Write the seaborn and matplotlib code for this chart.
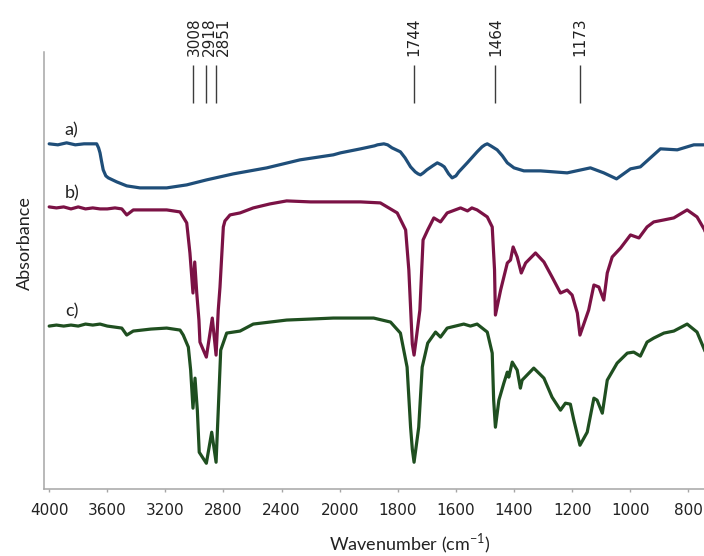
import numpy as np
import pandas as pd
import matplotlib
matplotlib.use("Agg")
import matplotlib.pyplot as plt
import seaborn as sns

# ---- spectra (wavenumber in cm-1, stacked absorbance in arbitrary units) ----
a_wn = [4000, 3940, 3880, 3820, 3760, 3700, 3673, 3660, 3650, 3640, 3628, 3610,
        3593, 3535, 3466, 3375, 3191, 3053, 2916, 2732, 2502, 2273, 2044, 1997,
        1928, 1880, 1870, 1848, 1835, 1820, 1791, 1775, 1756, 1740, 1730, 1722,
        1712, 1700, 1680, 1664, 1650, 1640, 1625, 1613, 1600, 1590, 1561, 1527,
        1510, 1500, 1492, 1480, 1458, 1440, 1423, 1400, 1366, 1309, 1217, 1137,
        1091, 1047, 999, 965, 896, 838, 781, 740]
a_ab = [3.45, 3.44, 3.46, 3.44, 3.45, 3.45, 3.45, 3.41, 3.36, 3.28, 3.19, 3.13,
        3.11, 3.07, 3.03, 3.01, 3.01, 3.04, 3.09, 3.15, 3.21, 3.29, 3.34, 3.36,
        3.40, 3.43, 3.44, 3.45, 3.44, 3.41, 3.37, 3.31, 3.22, 3.17, 3.15, 3.14,
        3.16, 3.19, 3.23, 3.26, 3.24, 3.22, 3.15, 3.11, 3.13, 3.17, 3.26, 3.37,
        3.42, 3.44, 3.45, 3.43, 3.39, 3.33, 3.26, 3.21, 3.18, 3.18, 3.16, 3.21,
        3.16, 3.10, 3.20, 3.22, 3.40, 3.39, 3.44, 3.44]

b_wn = [4000, 3950, 3900, 3850, 3800, 3750, 3700, 3650, 3600, 3547, 3500, 3466,
        3421, 3300, 3191, 3099, 3053, 3031, 3010, 2998, 2984, 2969, 2962, 2918,
        2877, 2851, 2836, 2824, 2801, 2790, 2755, 2686, 2595, 2480, 2365, 2200,
        2044, 1928, 1860, 1802, 1773, 1762, 1754, 1750, 1744, 1738, 1724, 1713,
        1697, 1676, 1653, 1630, 1584, 1560, 1545, 1527, 1492, 1475, 1467, 1464,
        1446, 1423, 1412, 1403, 1389, 1375, 1360, 1326, 1297, 1269, 1240, 1217,
        1200, 1182, 1173, 1143, 1125, 1108, 1091, 1079, 1062, 1033, 999, 970, 942,
        919, 884, 850, 804, 770, 744, 740]
b_ab = [2.82, 2.81, 2.82, 2.80, 2.82, 2.80, 2.81, 2.80, 2.80, 2.81, 2.80, 2.74,
        2.79, 2.79, 2.79, 2.77, 2.66, 2.36, 1.96, 2.27, 1.96, 1.69, 1.47, 1.32,
        1.71, 1.34, 1.79, 2.02, 2.62, 2.68, 2.74, 2.76, 2.81, 2.85, 2.88, 2.87,
        2.87, 2.87, 2.86, 2.76, 2.59, 2.19, 1.69, 1.45, 1.34, 1.47, 1.79, 2.49,
        2.59, 2.71, 2.67, 2.76, 2.81, 2.78, 2.81, 2.79, 2.72, 2.62, 2.19, 1.74,
        1.99, 2.26, 2.29, 2.42, 2.32, 2.16, 2.26, 2.36, 2.27, 2.12, 1.96, 1.99,
        1.94, 1.76, 1.54, 1.79, 2.04, 2.02, 1.89, 2.16, 2.32, 2.41, 2.54, 2.51,
        2.62, 2.67, 2.69, 2.71, 2.79, 2.72, 2.59, 2.55]

c_wn = [4000, 3950, 3900, 3850, 3800, 3750, 3700, 3650, 3600, 3550, 3500, 3466,
        3421, 3300, 3191, 3099, 3077, 3042, 3026, 3010, 2996, 2980, 2967, 2918,
        2881, 2851, 2836, 2819, 2778, 2686, 2595, 2480, 2365, 2200, 2044, 1928,
        1883, 1825, 1791, 1768, 1756, 1750, 1744, 1738, 1728, 1716, 1697, 1670,
        1653, 1630, 1573, 1550, 1527, 1492, 1475, 1470, 1464, 1452, 1435, 1423,
        1418, 1406, 1389, 1378, 1372, 1332, 1297, 1269, 1240, 1223, 1206, 1194,
        1173, 1148, 1125, 1114, 1096, 1079, 1045, 1010, 988, 965, 942, 919, 884,
        850, 804, 770, 744, 740]
c_ab = [1.63, 1.64, 1.63, 1.64, 1.63, 1.65, 1.64, 1.65, 1.63, 1.62, 1.61, 1.54,
        1.58, 1.60, 1.61, 1.59, 1.54, 1.42, 1.19, 0.81, 1.11, 0.79, 0.37, 0.26,
        0.57, 0.27, 0.79, 1.39, 1.56, 1.58, 1.65, 1.67, 1.69, 1.70, 1.71, 1.71,
        1.71, 1.67, 1.56, 1.22, 0.62, 0.40, 0.27, 0.40, 0.62, 1.22, 1.46, 1.57,
        1.52, 1.61, 1.65, 1.63, 1.65, 1.57, 1.36, 0.89, 0.62, 0.89, 1.06, 1.17,
        1.12, 1.27, 1.19, 1.01, 1.09, 1.21, 1.11, 0.92, 0.79, 0.86, 0.85, 0.69,
        0.44, 0.57, 0.91, 0.89, 0.76, 1.09, 1.26, 1.36, 1.37, 1.33, 1.47, 1.51,
        1.56, 1.58, 1.65, 1.57, 1.39, 1.36]

samples = ["a)", "b)", "c)"]
colors = ["#1f4e79", "#7b1245", "#1f4f20"]
label_wn = [3845, 3845, 3845]
label_ab = [3.585, 2.957, 1.78]

# marked bands
peaks = [3008, 2918, 2851, 1744, 1464, 1173]
peak_dx = [0.7, 2.2, 5.2, 0, 0, 0]      # label nudge in points for the crowded C-H trio

xticks = [4000, 3600, 3200, 2800, 2400, 2000, 1800, 1600, 1400, 1200, 1000, 800]

df = pd.concat([
    pd.DataFrame({"wn": w, "ab": a, "sample": s})
    for w, a, s in zip([a_wn, b_wn, c_wn], [a_ab, b_ab, c_ab], samples)
], ignore_index=True)

sns.set_theme(style="white")
plt.rcParams["font.family"] = ["DejaVu Sans"]
plt.rcParams["mathtext.fontset"] = "custom"
plt.rcParams["mathtext.rm"] = "Lato"

fig = plt.figure(figsize=(7.04, 5.56), dpi=100)
ax = fig.add_axes([0.0618, 0.12, 0.9382, 0.787])


# wavenumber axis compressed by a factor of two above 2000 cm-1
def fwd(w):
    w = np.asarray(w, dtype=float)
    return np.where(w > 2000, 2000 + (w - 2000) / 2, w)


def inv(t):
    t = np.asarray(t, dtype=float)
    return np.where(t > 2000, 2000 + (t - 2000) * 2, t)


ax.set_xscale("function", functions=(fwd, inv))

sns.lineplot(data=df, x="wn", y="ab", hue="sample", palette=dict(zip(samples, colors)),
             sort=False, estimator=None, legend=False, lw=2.3, ax=ax)
for line in ax.get_lines():
    line.set_solid_joinstyle("round")

ax.set_xlim(4039, 746)
ax.set_ylim(0, 4.37)
ax.set_yticks([])
ax.set_xticks(xticks)
ax.set_xticklabels([str(v) for v in xticks])
ax.tick_params(axis="x", bottom=True, direction="out", length=2.5, width=1.0,
               color="#a6a6a6", labelsize=11, labelcolor="#222222", pad=7.5)

sns.despine(ax=ax)
for side in ("left", "bottom"):
    ax.spines[side].set_color("#a6a6a6")
    ax.spines[side].set_linewidth(1.1)

for s, x, y in zip(samples, label_wn, label_ab):
    ax.text(x, y, s, ha="center", va="center", fontsize=13,
            family=["Lato", "DejaVu Sans"], color="#222222")

ax.vlines(peaks, 3.86, 4.24, color="#3c3c3c", lw=1.0)
for p, dx in zip(peaks, peak_dx):
    ax.annotate(str(p), xy=(p, 4.24), xytext=(dx, 6.5), textcoords="offset points",
                rotation=90, ha="center", va="bottom", fontsize=11,
                color="#222222", annotation_clip=False)

ax.set_ylabel("Absorbance", fontsize=13, family=["Lato", "DejaVu Sans"], color="#222222")
ax.yaxis.set_label_coords(-0.016, 0.563)
ax.set_xlabel("Wavenumber (cm$^{-1}$)", fontsize=13, family=["Lato", "DejaVu Sans"],
              color="#222222")
ax.xaxis.set_label_coords(0.555, -0.097)

fig.savefig("out.png", dpi=100)
